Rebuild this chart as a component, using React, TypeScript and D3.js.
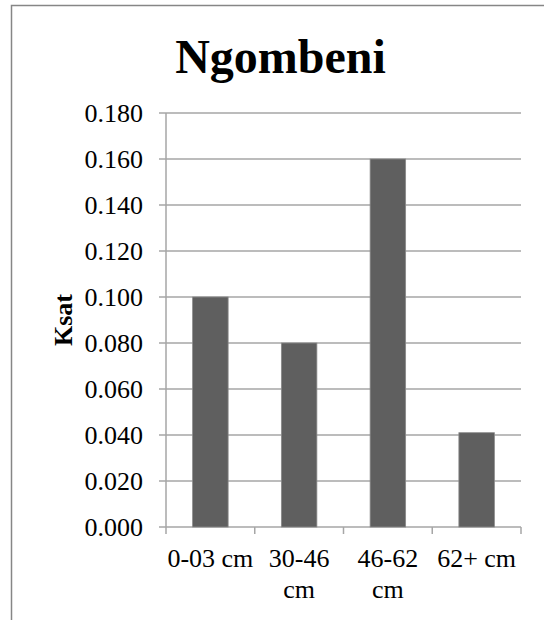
import { useEffect, useRef } from "react"
import * as d3 from "d3"

const CATEGORIES = ["0-03 cm", "30-46 cm", "46-62 cm", "62+ cm"]
const LABEL_LINES = [["0-03 cm"], ["30-46", "cm"], ["46-62", "cm"], ["62+ cm"]]
const KSAT = [0.1, 0.08, 0.16, 0.041]
const Y_TICKS = [0, 0.02, 0.04, 0.06, 0.08, 0.1, 0.12, 0.14, 0.16, 0.18]

const W = 544
const H = 620
const PLOT_L = 166
const PLOT_R = 521
const PLOT_T = 113
const PLOT_B = 527
const FONT = "Liberation Serif, Times New Roman, Times, serif"
const GRID = "#a6a6a6"

export default function App() {
  const svgRef = useRef<SVGSVGElement>(null)

  useEffect(() => {
    if (!svgRef.current) return
    const svg = d3.select(svgRef.current)
    svg.selectAll("*").remove()
    svg.style("font-family", FONT)

    const x = d3
      .scaleBand<string>()
      .domain(CATEGORIES)
      .range([PLOT_L, PLOT_R])
      .paddingInner(0.6)
      .paddingOuter(0.3)
    const xTicks = d3.scaleBand<string>().domain(CATEGORIES).range([PLOT_L, PLOT_R])
    const y = d3.scaleLinear().domain([0, 0.18]).range([PLOT_B, PLOT_T])

    // outer frame (left and top visible)
    svg.append("rect")
      .attr("x", 11.5).attr("y", 5.5)
      .attr("width", W + 20).attr("height", H + 20)
      .attr("fill", "none").attr("stroke", "#868686").attr("stroke-width", 1.5)

    // title
    svg.append("text")
      .attr("x", 280.5).attr("y", 73)
      .attr("text-anchor", "middle")
      .style("font-family", FONT).attr("font-weight", 700).attr("font-size", 48)
      .text("Ngombeni")

    // gridlines + y ticks
    Y_TICKS.forEach((t) => {
      svg.append("line")
        .attr("x1", PLOT_L - 7).attr("x2", PLOT_R)
        .attr("y1", y(t)).attr("y2", y(t))
        .attr("stroke", GRID).attr("stroke-width", 1.5)
      svg.append("text")
        .attr("x", 143).attr("y", y(t))
        .attr("dy", "0.35em")
        .attr("text-anchor", "end")
        .style("font-family", FONT).attr("font-size", 26)
        .text(d3.format(".3f")(t))
    })

    // bars
    svg.selectAll("rect.bar")
      .data(KSAT)
      .join("rect")
      .attr("class", "bar")
      .attr("x", (_, i) => x(CATEGORIES[i])!)
      .attr("width", x.bandwidth())
      .attr("y", (d) => y(d))
      .attr("height", (d) => y(0) - y(d))
      .attr("fill", "#5f5f5f")
      .attr("stroke", "#8a8a8a")
      .attr("stroke-width", 0.8)

    // y axis line
    svg.append("line")
      .attr("x1", PLOT_L).attr("x2", PLOT_L)
      .attr("y1", PLOT_T).attr("y2", PLOT_B)
      .attr("stroke", GRID).attr("stroke-width", 1.5)

    // x category ticks
    const tickXs = CATEGORIES.map((c) => xTicks(c)!).concat([PLOT_R])
    tickXs.forEach((tx) => {
      svg.append("line")
        .attr("x1", tx).attr("x2", tx)
        .attr("y1", PLOT_B).attr("y2", PLOT_B + 7)
        .attr("stroke", GRID).attr("stroke-width", 1.5)
    })

    // category labels
    LABEL_LINES.forEach((lines, i) => {
      const cx = xTicks(CATEGORIES[i])! + xTicks.bandwidth() / 2
      lines.forEach((line, j) => {
        svg.append("text")
          .attr("x", cx).attr("y", 567 + j * 31)
          .attr("text-anchor", "middle")
          .style("font-family", FONT).attr("font-size", 26)
          .text(line)
      })
    })

    // y axis title
    svg.append("text")
      .attr("transform", `translate(72, ${(PLOT_T + PLOT_B) / 2}) rotate(-90)`)
      .attr("text-anchor", "middle")
      .style("font-family", FONT).attr("font-weight", 700).attr("font-size", 26)
      .text("Ksat")
  }, [])

  return (
    <svg
      ref={svgRef}
      width={W}
      height={H}
      style={{ position: "absolute", left: 0, top: 0, background: "#fff" }}
    />
  )
}
